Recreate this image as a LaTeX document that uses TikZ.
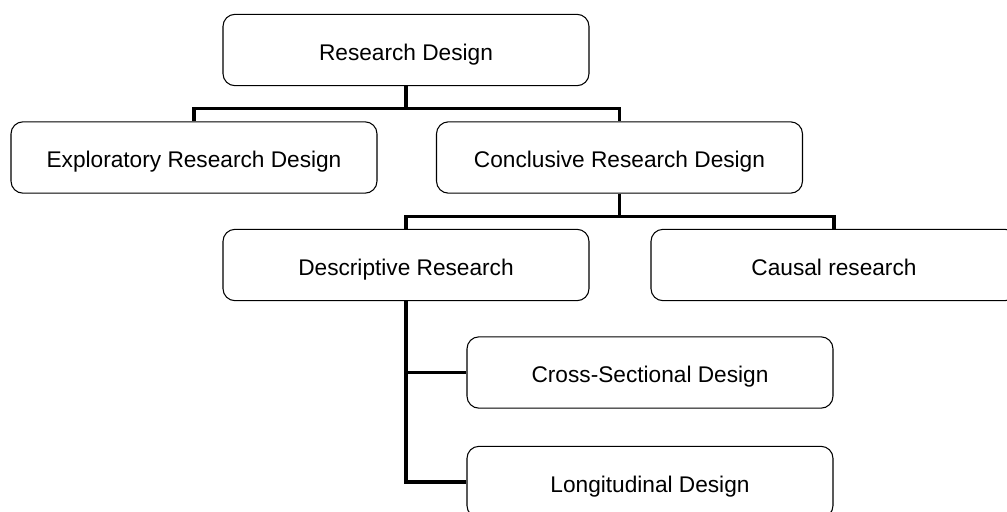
\documentclass[tikz,border=0pt]{standalone}
\usepackage{fontspec}
\setmainfont{Liberation Sans}
\begin{document}
\begin{tikzpicture}[x=0.75pt,y=-0.75pt,
  box/.style={draw=black, line width=0.8pt, rounded corners=9pt, fill=white,
    minimum width=274.5pt, minimum height=53.5pt, inner sep=0pt,
    text height=16.5pt, text depth=1pt,
    font=\fontsize{17}{20}\selectfont},
  conn/.style={draw=black, line width=2.4pt, line join=miter}]
\useasboundingbox (0,0) rectangle (1007,511);
\clip (0,0) rectangle (1007,511);
\fill[white] (0,0) rectangle (1007,511);
\node[box] (rd)  at (406,50)    {Research Design};
\node[box] (exp) at (194,157.5) {Exploratory Research Design};
\node[box] (con) at (619.5,157.5) {Conclusive Research Design};
\node[box] (des) at (406,265)   {Descriptive Research};
\node[box] (cau) at (834,265)   {Causal research};
\node[box] (cro) at (650,372.5) {Cross-Sectional Design};
\node[box] (lon) at (650,482)   {Longitudinal Design};
\coordinate (j1) at (406,108.5);
\coordinate (j2) at (619.5,216.5);
\draw[conn] (rd.south) -- (j1);
\draw[conn] (exp.north) |- (j1) -| (con.north);
\draw[conn] (con.south) -- (j2);
\draw[conn] (des.north) |- (j2) -| (cau.north);
\draw[conn] (des.south) |- (cro.west);
\draw[conn] (des.south) |- (lon.west);
\end{tikzpicture}
\end{document}
